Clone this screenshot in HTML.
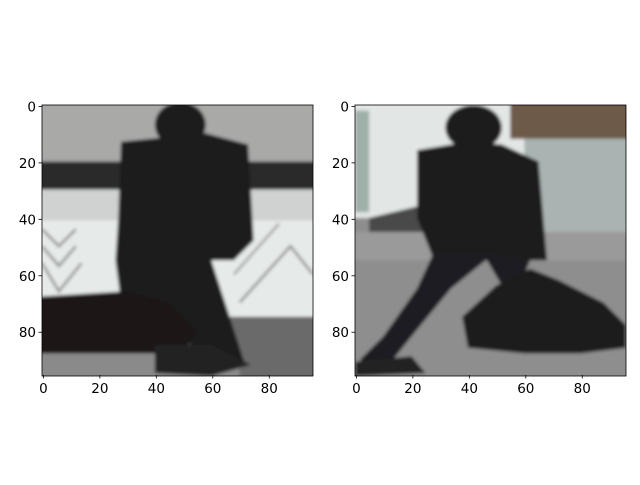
<!DOCTYPE html>
<html><head><meta charset="utf-8"><style>
body{margin:0;background:#fff;}
text{font-family:"DejaVu Sans","Liberation Sans",sans-serif;font-size:13.5px;fill:#000;}
</style></head><body>
<svg width="640" height="480" xmlns="http://www.w3.org/2000/svg">
<defs>
<clipPath id="c1"><rect x="0" y="0" width="96" height="96"/></clipPath>
<filter id="bl" x="-10%" y="-10%" width="120%" height="120%"><feGaussianBlur stdDeviation="0.6"/></filter>
</defs>
<rect width="640" height="480" fill="#fff"/>
<!-- left image -->
<g transform="translate(42,105) scale(2.8229)">
<g clip-path="url(#c1)"><g filter="url(#bl)">
<rect x="-3" y="-3" width="102" height="23" fill="#a9a9a8"/>
<rect x="-3" y="20" width="102" height="10" fill="#2c2c2b"/>
<rect x="-3" y="30" width="102" height="11" fill="#cfd2d1"/>
<rect x="-3" y="41" width="102" height="34" fill="#e6ebea"/>
<polyline points="0,44 6,50 12,44" fill="none" stroke="#999" stroke-width="1"/>
<polyline points="0,50 6,57 12,50" fill="none" stroke="#999" stroke-width="1"/>
<polyline points="0,56 6,66 14,56" fill="none" stroke="#999" stroke-width="1"/>
<polyline points="70,70 88,50 96,60" fill="none" stroke="#999" stroke-width="1"/>
<polyline points="68,60 84,42" fill="none" stroke="#aaa" stroke-width="1"/>
<rect x="-3" y="75" width="102" height="24" fill="#6a6a6a"/>
<rect x="-3" y="86" width="73" height="13" fill="#8a8a8a"/>
<ellipse cx="49" cy="7" rx="9" ry="8" fill="#1e1c1c"/>
<polygon points="28,13 58,10 73,14 75,48 68,55 60,55 72,92 58,95 50,80 40,70 28,70 26,55 27,40" fill="#1d1b1b"/>
<polygon points="-3,68 30,66 45,70 55,80 50,88 -3,88" fill="#1a1919"/>
<polygon points="40,85 60,85 74,92 60,96 40,95" fill="#222"/>
</g></g>
<rect x="0" y="0" width="96" height="96" fill="none" stroke="#000" stroke-width="0.28"/>
</g>
<!-- right image -->
<g transform="translate(355,105) scale(2.8229)">
<g clip-path="url(#c1)"><g filter="url(#bl)">
<rect x="-3" y="-3" width="102" height="102" fill="#8e8e8e"/>
<rect x="-3" y="-3" width="102" height="43" fill="#e2e6e5"/>
<rect x="0" y="2" width="5" height="36" fill="#9fb0a8"/>
<rect x="55" y="-3" width="44" height="15" fill="#6e5a48"/>
<rect x="60" y="12" width="39" height="43" fill="#a9b3b1"/>
<polygon points="5,40 30,34 35,45 5,45" fill="#4a4a4a"/>
<rect x="-3" y="45" width="102" height="10" fill="#9a9a9a"/>
<ellipse cx="42" cy="8" rx="10" ry="8" fill="#1e1c1c"/>
<polygon points="22,16 40,13 52,14 65,20 68,55 28,55 22,40" fill="#1c1a1a"/>
<polygon points="28,52 50,52 34,65 20,82 12,92 2,95 2,90 10,82 22,65" fill="#1d1c22"/>
<polygon points="45,52 62,55 58,65 52,64" fill="#1d1c22"/>
<polygon points="38,75 50,64 62,58 72,62 88,70 96,78 96,86 80,88 60,88 40,86" fill="#1b1a1b"/>
<polygon points="0,91 20,89 25,95 0,96" fill="#222"/>
</g></g>
<rect x="0" y="0" width="96" height="96" fill="none" stroke="#000" stroke-width="0.28"/>
</g>
<g id="axes"></g>
</svg>
<script>
const xTicks=[0,20,40,60,80];
const yTicks=[0,20,40,60,80];
const panels=[{x:42,name:'left'},{x:355,name:'right'}];
const s=271/96, top0=105;
const g=document.getElementById('axes');
const NS='http://www.w3.org/2000/svg';
function mk(t,a){const e=document.createElementNS(NS,t);for(const k in a)e.setAttribute(k,a[k]);g.appendChild(e);return e;}
panels.forEach(p=>{
  xTicks.forEach(v=>{
    const x=p.x+(v+0.5)*s;
    const l=mk('line',{x1:x,x2:x,y1:375,y2:378.5,stroke:'#000','stroke-width':0.8});
    
    
    const t=mk('text',{x:x,y:393,'text-anchor':'middle'});t.textContent=v;
    
    
  });
  yTicks.forEach(v=>{
    const y=top0+(v+0.5)*s;
    const l=mk('line',{x1:p.x-3.5,x2:p.x,y1:y,y2:y,stroke:'#000','stroke-width':0.8});
    
    
    const t=mk('text',{x:p.x-6,y:y+5,'text-anchor':'end'});t.textContent=v;
    
    
  });
});
</script>
</body></html>
